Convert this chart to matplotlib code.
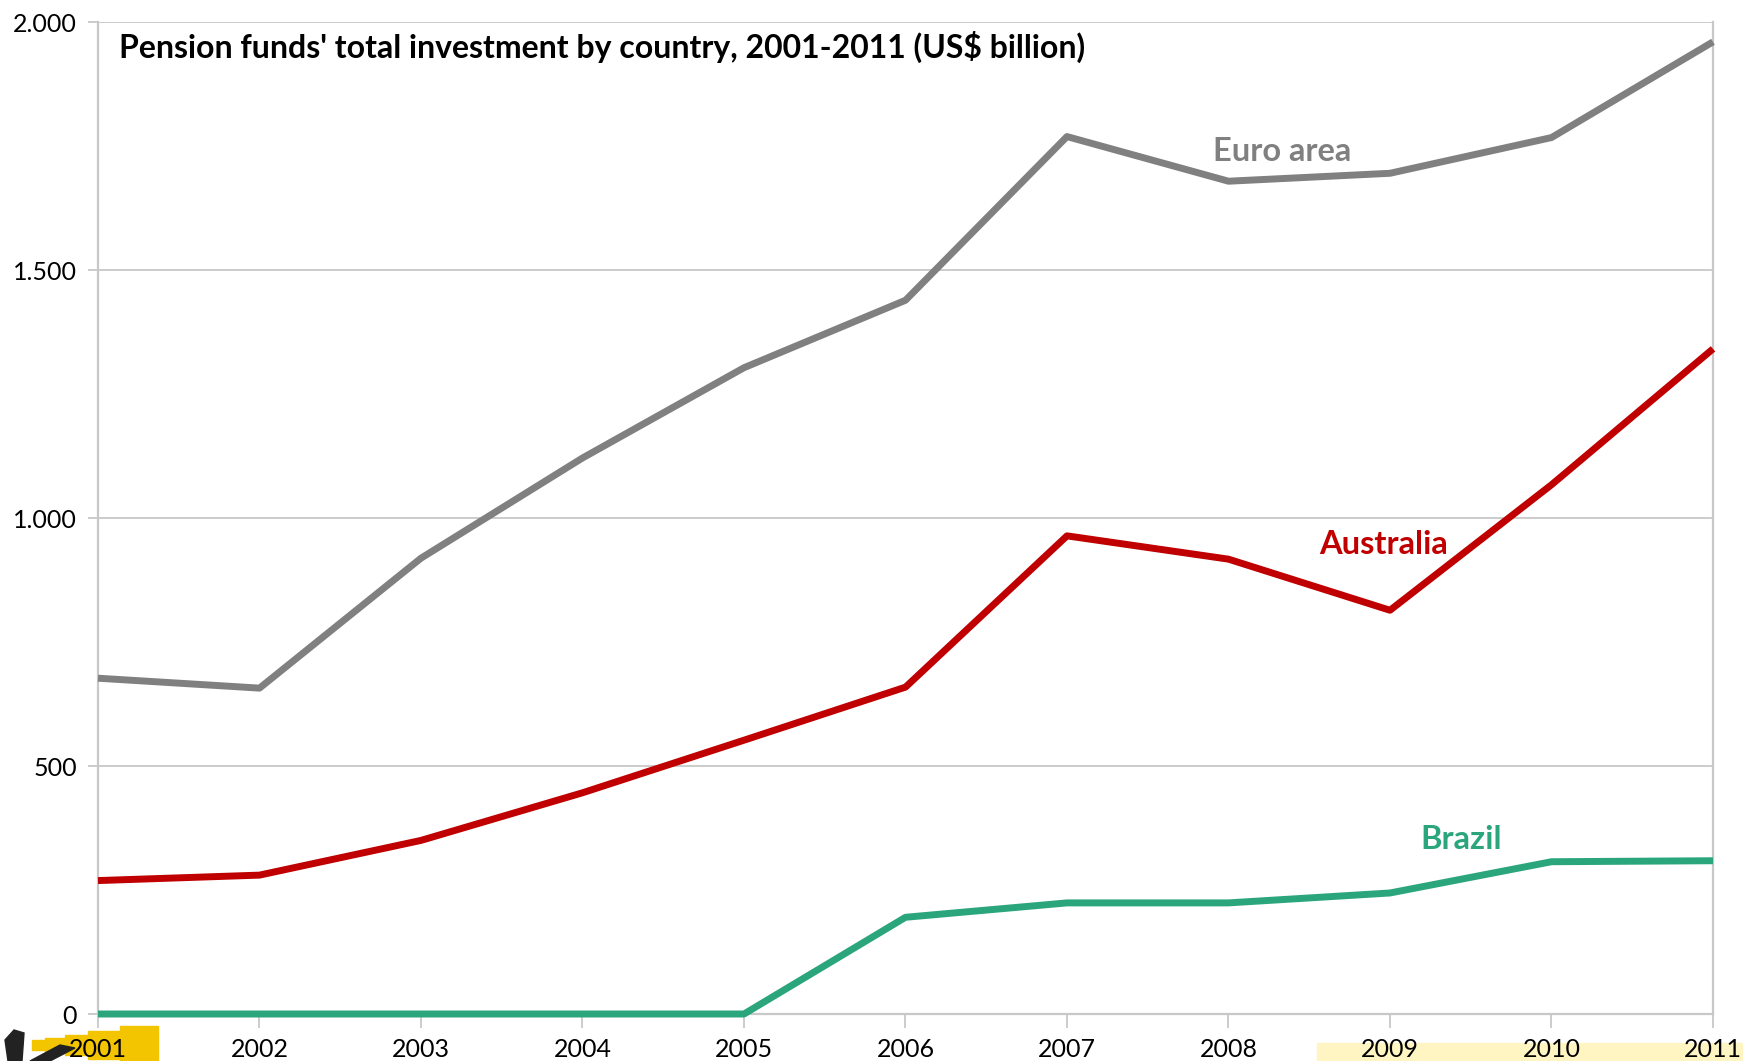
import matplotlib.pyplot as plt
from matplotlib.patches import Rectangle, Polygon
from matplotlib.ticker import FuncFormatter

years = [2001, 2002, 2003, 2004, 2005, 2006, 2007, 2008, 2009, 2010, 2011]
euro_area = [677, 657, 919, 1121, 1303, 1439, 1769, 1679, 1695, 1767, 1960]
australia = [269, 280, 350, 446, 552, 659, 964, 917, 814, 1067, 1341]
brazil = [0, 0, 0, 0, 0, 195, 224, 224, 244, 307, 309]

plt.rcParams["font.family"] = ["Lato", "DejaVu Sans"]

fig = plt.figure(figsize=(17.43, 10.61), dpi=100)
ax = fig.add_axes([98 / 1743, 1 - 1014 / 1061, (1713 - 98) / 1743, (1014 - 22) / 1061])

grid_col = "#c8c8c8"
ax.plot(years, euro_area, color="#808080", lw=5, solid_capstyle="butt", zorder=3, clip_on=False)
ax.plot(years, australia, color="#c00000", lw=5, solid_capstyle="butt", zorder=3, clip_on=False)
ax.plot(years, brazil, color="#2ba57c", lw=5, solid_capstyle="butt", zorder=3, clip_on=False)

ax.set_xlim(2001, 2011)
ax.set_ylim(0, 2000)
ax.set_xticks(years)
ax.set_yticks([0, 500, 1000, 1500, 2000])
ax.yaxis.set_major_formatter(FuncFormatter(lambda v, p: f"{int(v):,}".replace(",", ".")))
ax.grid(axis="y", color=grid_col, lw=1.3)
ax.set_axisbelow(True)
for s in ["left", "right", "bottom", "top"]:
    ax.spines[s].set_color(grid_col)
    ax.spines[s].set_linewidth(1.6)
ax.spines["top"].set_visible(False)
ax.tick_params(axis="x", length=10, width=1.3, color=grid_col, labelsize=18, pad=7)
ax.tick_params(axis="y", length=7, width=1.3, color=grid_col, labelsize=18, pad=8)

ax.text(2001.13, 1950, "Pension funds' total investment by country, 2001-2011 (US$ billion)",
        fontsize=23, fontweight="bold", va="center", ha="left")
ax.text(2008.33, 1738, "Euro area", color="#808080", fontsize=23.5, fontweight="bold", ha="center", va="center")
ax.text(2008.96, 946, "Australia", color="#c00000", fontsize=23.5, fontweight="bold", ha="center", va="center")
ax.text(2009.44, 352, "Brazil", color="#2ba57c", fontsize=23.5, fontweight="bold", ha="center", va="center")

# yellow highlight behind the last tick labels
fig.patches.append(Rectangle((1317 / 1743, 0), 1 - 1317 / 1743, 18 / 1061,
                             transform=fig.transFigure, color="#fff5c2", zorder=-1))

# small telescope icon in the bottom-left corner
W, H = 1743, 1061
segs = [(32, 45, 1040, 1050), (45, 65, 1038, 1052), (65, 88, 1035, 1055),
        (88, 120, 1031, 1059), (120, 158, 1026, 1061)]
for x0, x1, y0, y1 in segs:
    fig.patches.append(Rectangle((x0 / W, 1 - y1 / H), (x1 - x0) / W, (y1 - y0) / H,
                                 transform=fig.transFigure, color="#f2c500", zorder=-1))
fig.patches.append(Polygon([(5 / W, 1 - 1040 / H), (14 / W, 1 - 1030 / H), (24 / W, 1 - 1033 / H),
                            (22 / W, 1 - 1061 / H), (8 / W, 1 - 1061 / H)],
                           transform=fig.transFigure, color="#222222", zorder=-1))
fig.patches.append(Polygon([(30 / W, 1 - 1061 / H), (60 / W, 1 - 1045 / H), (75 / W, 1 - 1048 / H),
                            (50 / W, 1 - 1061 / H)],
                           transform=fig.transFigure, color="#222222", zorder=-1))

fig.savefig("out.png", dpi=100)
